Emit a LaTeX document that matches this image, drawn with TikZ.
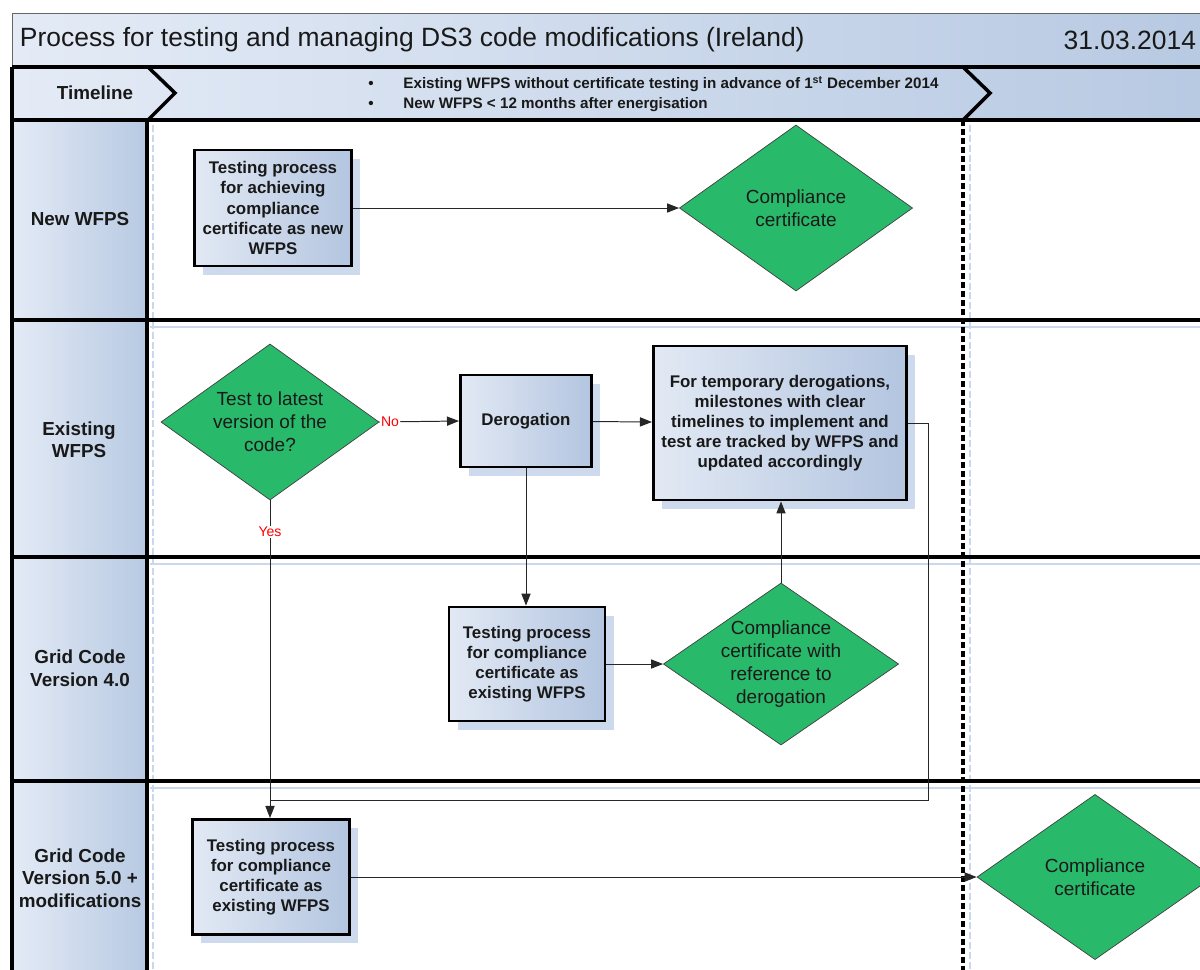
\documentclass[tikz,border=0pt]{standalone}
\usepackage{fontspec}
\setmainfont{Liberation Sans}
\usetikzlibrary{arrows.meta,positioning,shapes.geometric,shadows}

\definecolor{bandlight}{HTML}{E4EBF6}
\definecolor{banddark}{HTML}{B7C9E2}
\definecolor{boxlight}{HTML}{E2E9F4}
\definecolor{boxdark}{HTML}{B3C5E0}
\definecolor{shadeblue}{HTML}{C8D6EC}
\definecolor{certgreen}{HTML}{29B96B}
\definecolor{guideblue}{HTML}{CAD8EE}

\tikzset{
  procbox/.style={draw=black, line width=2pt, left color=boxlight, right color=boxdark,
    drop shadow={shadow xshift=0.22cm, shadow yshift=-0.22cm, fill=shadeblue, opacity=0.9},
    text=black!90, font=\bfseries\fontsize{12}{14.3}\selectfont, align=center, inner sep=2pt},
  certdia/.style={diamond, aspect=1.4, draw=black!75, line width=0.5pt, fill=certgreen, text=black!90,
    font=\fontsize{13.5}{16.4}\selectfont, align=center, inner sep=0pt},
  lanetext/.style={text=black!90, font=\bfseries\fontsize{13.4}{16}\selectfont, align=center},
  flow/.style={-{Triangle[length=3mm,width=2.3mm]}, line width=0.7pt, black!85},
  answer/.style={text=red, font=\fontsize{10}{12}\selectfont, fill=white, inner sep=0.8pt},
  laneline/.style={line width=2.8pt},
}

\begin{document}
\begin{tikzpicture}[x=0.025cm, y=-0.025cm]
  \useasboundingbox (0,0) rectangle (1200,969);
  \clip (0,0) rectangle (1200,969);

  % title bar and timeline band
  \path[left color=bandlight, right color=banddark, draw=black!60, line width=0.6pt] (12,13) rectangle (1215,67);
  \node[anchor=west, font=\fontsize{18.8}{22}\selectfont, text=black!90] (title) at (15,40)
    {Process for testing and managing DS3 code modifications (Ireland)};
  \node[anchor=east, font=\fontsize{18.8}{22}\selectfont, text=black!90] (date) at (1201,40) {31.03.2014};
  \path[left color=bandlight, right color=banddark] (12,67) rectangle (1215,120);

  % lane headers
  \foreach \ya/\yb in {120/320, 320/557, 557/781, 781/990}
    \path[left color=bandlight, right color=banddark] (12,\ya) rectangle (147,\yb);

  % faint guide lines
  \foreach \y in {327, 564, 788}
    \draw[guideblue, line width=1.2pt] (150,\y) -- (1215,\y);
  \draw[guideblue, line width=1.5pt, dash pattern=on 5pt off 2pt] (153,125) -- (153,990);
  \draw[guideblue, line width=1.5pt, dash pattern=on 5pt off 2pt] (970,125) -- (970,990);

  % lane borders
  \draw[laneline] (12,67) -- (1215,67);
  \foreach \y in {120, 320, 557, 781}
    \draw[laneline] (12,\y) -- (1215,\y);
  \draw[laneline] (12,67) -- (12,990);
  \draw[laneline] (147,120) -- (147,990);
  \draw[line width=3pt, dash pattern=on 4pt off 2.4pt] (963,120) -- (963,990);

  % timeline chevrons
  \draw[line width=2.5pt] (148,67) -- (175,93) -- (148,120);
  \draw[line width=2.5pt] (963,67) -- (990,93) -- (963,120);
  \node[lanetext] (tline) at (95,93) {Timeline};
  \node[anchor=west, align=left, inner sep=0pt, text=black!90, font=\bfseries\fontsize{10.8}{13.8}\selectfont] (span) at (368,94)
    {\makebox[25pt][l]{\textbullet}Existing WFPS without certificate testing in advance of 1\textsuperscript{st} December 2014\\
     \makebox[25pt][l]{\textbullet}New WFPS < 12 months after energisation};

  % lane labels
  \node[lanetext] (lnew) at (80,219) {New WFPS};
  \node[lanetext] (lold) at (79,440) {Existing\\WFPS};
  \node[lanetext] (lfour) at (80,668) {Grid Code\\Version 4.0};
  \node[lanetext] (lfive) at (80,878) {Grid Code\\Version 5.0 +\\modifications};

  % process steps
  \node[procbox, minimum width=3.93cm, minimum height=2.9cm] (newtest) at (273,208)
    {Testing process\\for achieving\\compliance\\certificate as new\\WFPS};
  \node[certdia, minimum width=5.83cm, minimum height=4.15cm] (newcert) at (796,208)
    {Compliance\\certificate};
  \node[certdia, minimum width=5.45cm, minimum height=3.9cm] (askcode) at (270,422)
    {Test to latest\\version of the\\code?};
  \node[procbox, minimum width=3.28cm, minimum height=2.3cm] (derog) at (526,421) {Derogation};
  \node[procbox, minimum width=6.33cm, minimum height=3.85cm] (milestones) at (780,423)
    {For temporary derogations,\\milestones with clear\\timelines to implement and\\test are tracked by WFPS and\\updated accordingly};
  \node[procbox, minimum width=3.9cm, minimum height=2.85cm] (oldtest4) at (527,664)
    {Testing process\\for compliance\\certificate as\\existing WFPS};
  \node[certdia, aspect=1.45, inner sep=-3.6pt, minimum width=5.88cm, minimum height=4.05cm] (refcert) at (781,664)
    {Compliance\\certificate with\\reference to\\derogation};
  \node[procbox, minimum width=3.93cm, minimum height=2.88cm] (oldtest5) at (271,877)
    {Testing process\\for compliance\\certificate as\\existing WFPS};
  \node[certdia, minimum width=5.9cm, minimum height=4.13cm] (finalcert) at (1095,877)
    {Compliance\\certificate};

  % connectors
  \coordinate (mergerow) at (0,800);
  \coordinate (merge) at (askcode.south |- mergerow);
  \draw[flow] (newtest) -- (newcert);
  \draw[flow] (askcode.east) -- node[answer, pos=0, anchor=west] {No} (derog.west);
  \draw[flow] (askcode.south) -- node[answer, pos=0.1] {Yes} (askcode.south |- oldtest5.north);
  \draw[flow] (derog) -- (milestones);
  \draw[flow] (derog.south) -- (derog.south |- oldtest4.north);
  \draw[flow] (oldtest4) -- (refcert);
  \draw[flow] (refcert.north) -- (refcert.north |- milestones.south);
  \draw[line width=0.7pt, black!85] (milestones.east) -- ++(20,0) |- (merge);
  \draw[flow] (oldtest5) -- (finalcert);
\end{tikzpicture}
\end{document}
